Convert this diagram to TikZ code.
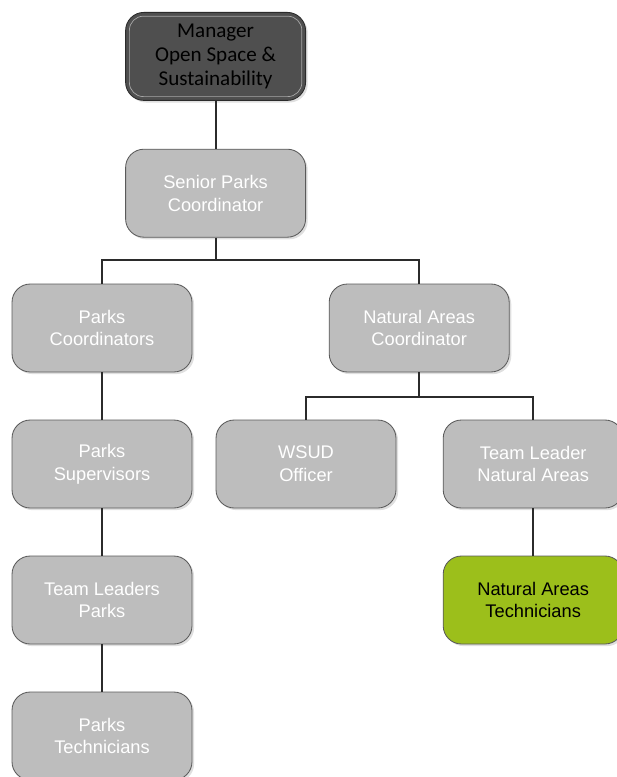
\documentclass[tikz,border=0pt]{standalone}
\usepackage{fontspec}
\setmainfont{Liberation Sans}
\newfontfamily\mgrfont{Carlito}
\usetikzlibrary{positioning, shadows}
\definecolor{boxgray}{HTML}{BDBDBD}
\definecolor{boxedge}{HTML}{5A5A5A}
\definecolor{mgrgray}{HTML}{4F4F4F}
\definecolor{natgreen}{HTML}{9CBF1B}
\definecolor{linegray}{HTML}{2B2B2B}
\tikzset{
  role/.style={draw=boxedge, fill=boxgray, rounded corners=13pt, minimum width=4.5cm,
    minimum height=2.2cm, align=center, text=white, line width=0.6pt,
    font=\fontsize{13}{16.3}\selectfont,
    drop shadow={shadow xshift=1.5pt, shadow yshift=-1.5pt, opacity=0.25}},
  headrole/.style={role, fill=mgrgray, draw=linegray, text=black,
    font=\mgrfont\fontsize{15}{17}\selectfont},
  greenrole/.style={role, fill=natgreen, draw=boxedge, text=black},
  link/.style={draw=linegray, line width=1.3pt}
}

\begin{document}
\begin{tikzpicture}
  \useasboundingbox (0,0) rectangle (15.425,-19.425);
  \clip (0,0) rectangle (15.425,-19.425);

  \node[headrole] (mgr) at (5.39,-1.41) {Manager\\Open Space \&\\Sustainability};
  \draw[gray!70, line width=0.5pt, rounded corners=10pt]
    ([shift={(3pt,3pt)}]mgr.south west) rectangle ([shift={(-3pt,-3pt)}]mgr.north east);
  \node[role] (spc) at (5.39,-4.83) {Senior Parks\\Coordinator};
  \node[role] (pc) at (2.55,-8.2) {Parks\\Coordinators};
  \node[role] (nac) at (10.48,-8.2) {Natural Areas\\Coordinator};
  \node[role] (ps) at (2.55,-11.6) {Parks\\Supervisors};
  \node[role] (wsud) at (7.65,-11.6) {WSUD\\Officer};
  \node[role] (tlna) at (13.33,-11.6) {Team Leader\\Natural Areas};
  \node[greenrole] (nat) at (13.33,-15.0) {Natural Areas\\Technicians};
  \node[role] (tlp) at (2.55,-15.0) {Team Leaders\\Parks};
  \node[role] (pt) at (2.55,-18.4) {Parks\\Technicians};

  \coordinate (bus1) at (5.39,-6.5);
  \coordinate (bus2) at (10.48,-9.925);

  \draw[link] (mgr) -- (spc);
  \draw[link] (spc) -- (bus1);
  \draw[link] (bus1) -| (pc);
  \draw[link] (bus1) -| (nac);
  \draw[link] (pc) -- (ps);
  \draw[link] (ps) -- (tlp);
  \draw[link] (tlp) -- (pt);
  \draw[link] (nac) -- (bus2);
  \draw[link] (bus2) -| (wsud);
  \draw[link] (bus2) -| (tlna);
  \draw[link] (tlna) -- (nat);
\end{tikzpicture}
\end{document}
